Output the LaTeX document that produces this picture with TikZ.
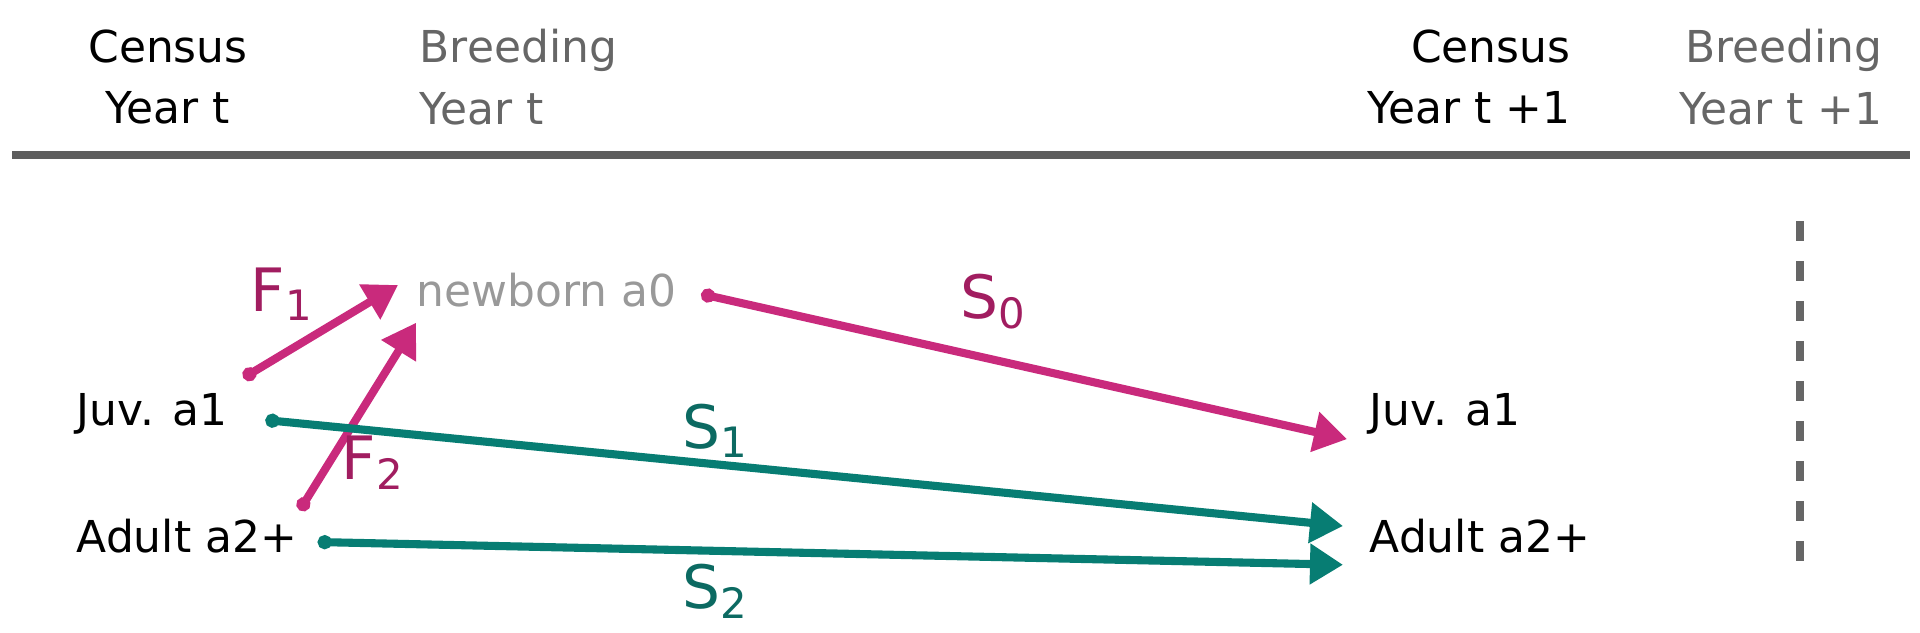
\documentclass[tikz,border=0pt]{standalone}
\usepackage{fontspec}
\setmainfont{DejaVu Sans}
\usetikzlibrary{arrows.meta, calc}

\definecolor{fecund}{HTML}{C92A7C}
\definecolor{fecundlbl}{HTML}{A11D60}
\definecolor{surv}{HTML}{077D73}
\definecolor{survlbl}{HTML}{0C6A62}
\definecolor{breedgray}{HTML}{666666}
\definecolor{babygray}{HTML}{999999}
\definecolor{rulegray}{HTML}{5E5E5E}

\newcommand{\rsub}[1]{\textsubscript{#1}}

\tikzset{
  stage/.style={font=\fontsize{12.5}{17.6}\selectfont, inner sep=2pt},
  header/.style={stage, align=center},
  fecline/.style={fecund, line width=2.3pt, line cap=round,
    arrows={Circle[length=1.4mm]-Triangle[length=3.3mm, width=3.9mm]}},
  survline/.style={fecline, surv},
  ratelbl/.style={font=\fontsize{17}{20}\selectfont}
}

\begin{document}
\begin{tikzpicture}[x=0.01cm, y=-0.01cm]
    \useasboundingbox (0,0) rectangle (1920,632);

    % Time line headers
    \node[header] (censusT) at (168,77) {Census\\Year t};
    \node[header, align=left, anchor=west, text=breedgray] (breedT) at (412,77) {Breeding\\Year t};
    \node[header, align=right, anchor=east] (censusN) at (1578,77) {Census\\Year t +1};
    \node[header, align=right, anchor=east, text=breedgray] (breedN) at (1890,77) {Breeding\\Year t +1};
    \draw[rulegray, line width=2.3pt] (12,155) -- (1910,155);

    % Next breeding marker
    \draw[breedgray, line width=2.3pt, dash pattern=on 0.2cm off 0.2cm] (1800,221) -- (1800,561);

    % Stages
    \node[stage, anchor=west] (juvT) at (69,414) {Juv. a1};
    \node[stage, anchor=west] (adultT) at (69,536) {Adult a2+};
    \node[stage, anchor=west, text=babygray] (newborn) at (409,290) {newborn a0};
    \node[stage, anchor=west] (juvN) at (1362,414) {Juv. a1};
    \node[stage, anchor=west] (adultN) at (1362,536) {Adult a2+};

    % Fecundity
    \draw[fecline] ($(juvT.north east)+(8,-8)$) -- ($(newborn.west)+(-11,-5)$);
    \draw[fecline] ($(adultT.north east)+(-5,-1)$) -- ($(newborn.south west)+(7,8)$);
    \node[ratelbl, text=fecundlbl] (lblF1) at (282,294) {F\rsub{1}};
    \node[ratelbl, text=fecundlbl] (lblF2) at (373,463) {F\rsub{2}};

    % Survival
    \draw[fecline] ($(newborn.east)+(17,4)$) -- ($(juvN.south west)+(-15,-3)$);
    \draw[survline] ($(juvT.east)+(30,6)$) -- ($(adultN.west)+(-19,-10)$);
    \draw[survline] ($(adultT.east)+(13,6)$) -- ($(adultN.south west)+(-19,4)$);
    \node[ratelbl, text=fecundlbl] (lblS0) at (994,302) {S\rsub{0}};
    \node[ratelbl, text=survlbl] (lblS1) at (716,431) {S\rsub{1}};
    \node[ratelbl, text=survlbl] (lblS2) at (716,591) {S\rsub{2}};
\end{tikzpicture}
\end{document}
